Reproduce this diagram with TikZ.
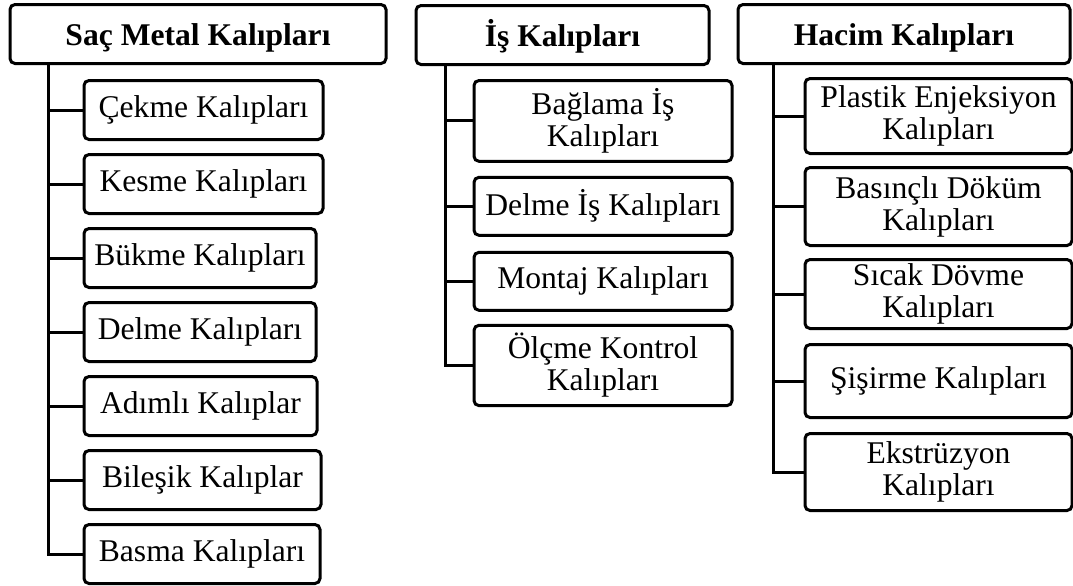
\documentclass[tikz,border=0pt]{standalone}
\usepackage{fontspec}
\setmainfont{Liberation Serif}
\usetikzlibrary{positioning}
\tikzset{
  box/.style={rectangle, rounded corners=2.5pt, draw=black, line width=1.5pt,
    outer sep=0pt, align=center, inner ysep=4pt,
    font=\fontsize{15.8}{16}\selectfont},
  header/.style={box, minimum height=29.5pt, text height=14pt, text depth=3pt,
    font=\fontsize{15.8}{16}\selectfont\bfseries},
  sacitem/.style={box, inner xsep=4pt, minimum height=29.5pt},
  isitem/.style={box, inner xsep=4.5pt, minimum width=129pt, minimum height=29pt},
  hacimitem/.style={box, inner xsep=4pt, inner ysep=1pt, minimum width=133.5pt},
  link/.style={draw, line width=1.5pt}
}

\begin{document}
\begin{tikzpicture}[x=0.5pt, y=-0.5pt]

\useasboundingbox (0,0) rectangle (1073,585);

% column headers
\node[header, minimum width=188pt]   (sac)   at (198,34)   {Saç Metal Kalıpları};
\node[header, minimum width=146.5pt] (is)    at (562.5,35) {İş Kalıpları};
\node[header, minimum width=166pt]   (hacim) at (904,34)   {Hacim Kalıpları};

% sac metal
\node[sacitem, minimum width=119.5pt, below right=8.5pt and 37pt of sac.south west] (cekme) {Çekme Kalıpları};
\node[sacitem, minimum width=119.5pt, below right=7.5pt and 0pt of cekme.south west] (kesme) {Kesme Kalıpları};
\node[sacitem, minimum width=116pt, below right=7.5pt and 0pt of kesme.south west] (bukme) {Bükme Kalıpları};
\node[sacitem, minimum width=116pt, below right=7.5pt and 0pt of bukme.south west] (delme) {Delme Kalıpları};
\node[sacitem, minimum width=116.5pt, below right=7.5pt and 0pt of delme.south west] (adimli) {Adımlı Kalıplar};
\node[sacitem, minimum width=118.5pt, below right=7.5pt and 0pt of adimli.south west] (bilesik) {Bileşik Kalıplar};
\node[sacitem, minimum width=118pt, below right=7.5pt and 0pt of bilesik.south west] (basma) {Basma Kalıpları};

% is kaliplari
\node[isitem, below right=8pt and 29pt of is.south west] (baglama) {Bağlama İş\\Kalıpları};
\node[isitem, below right=8pt and 0pt of baglama.south west] (delmeis) {Delme İş Kalıpları};
\node[isitem, below right=8.5pt and 0pt of delmeis.south west] (montaj) {Montaj Kalıpları};
\node[isitem, below right=7.5pt and 0pt of montaj.south west] (olcme) {Ölçme Kontrol\\Kalıpları};

% hacim kaliplari
\node[hacimitem, minimum height=37.5pt, below right=7.5pt and 33.5pt of hacim.south west] (plastik) {Plastik Enjeksiyon\\Kalıpları};
\node[hacimitem, minimum height=39pt, below right=7pt and 0pt of plastik.south west] (basincli) {Basınçlı Döküm\\Kalıpları};
\node[hacimitem, minimum height=34.5pt, below right=7pt and 0pt of basincli.south west] (sicak) {Sıcak Dövme\\Kalıpları};
\node[hacimitem, minimum height=36.5pt, below right=8pt and 0pt of sicak.south west] (sisirme) {Şişirme Kalıpları};
\node[hacimitem, minimum height=38.5pt, below right=8pt and 0pt of sisirme.south west] (ekstruzyon) {Ekstrüzyon\\Kalıpları};

% trunk tops
\coordinate (sactop)   at ([xshift=19pt]sac.south west);
\coordinate (istop)    at ([xshift=14.5pt]is.south west);
\coordinate (hacimtop) at ([xshift=17.5pt]hacim.south west);

\draw[link] (sactop) |- (cekme.west);
\draw[link] (sactop) |- (kesme.west);
\draw[link] (sactop) |- (bukme.west);
\draw[link] (sactop) |- (delme.west);
\draw[link] (sactop) |- (adimli.west);
\draw[link] (sactop) |- (bilesik.west);
\draw[link] (sactop) |- (basma.west);

\draw[link] (istop) |- (baglama.west);
\draw[link] (istop) |- (delmeis.west);
\draw[link] (istop) |- (montaj.west);
\draw[link] (istop) |- (olcme.west);

\draw[link] (hacimtop) |- (plastik.west);
\draw[link] (hacimtop) |- (basincli.west);
\draw[link] (hacimtop) |- (sicak.west);
\draw[link] (hacimtop) |- (sisirme.west);
\draw[link] (hacimtop) |- (ekstruzyon.west);

\end{tikzpicture}
\end{document}
